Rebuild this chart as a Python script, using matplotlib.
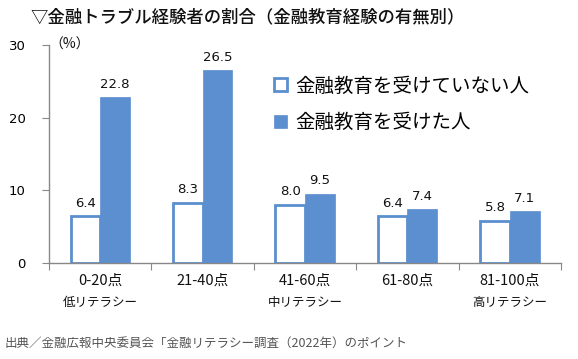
import matplotlib
matplotlib.use("Agg")
import matplotlib.pyplot as plt
import numpy as np

plt.rcParams['font.family'] = ['Noto Sans CJK JP', 'DejaVu Sans']

categories = ["0-20点", "21-40点", "41-60点", "61-80点", "81-100点"]
sublabels = ["低リテラシー", "", "中リテラシー", "", "高リテラシー"]
no_edu = [6.4, 8.3, 8.0, 6.4, 5.8]
edu = [22.8, 26.5, 9.5, 7.4, 7.1]
series_names = ["金融教育を受けていない人", "金融教育を受けた人"]
yticks = [0, 10, 20, 30]

blue = "#5B8FCF"
gray = "#888888"

fig = plt.figure(figsize=(5.78, 3.59), dpi=100)
ax = fig.add_axes([0.0848, 0.2674, 0.886, 0.6073])

x = np.arange(len(categories))
w = 0.29
b1 = ax.bar(x - w / 2, no_edu, w, color="white", edgecolor=blue, linewidth=2, label=series_names[0])
b2 = ax.bar(x + w / 2, edu, w, color=blue, edgecolor=blue, linewidth=0.5, label=series_names[1])

for xi, v in zip(x, no_edu):
    ax.text(xi - w / 2, v + 0.9, f"{v:.1f}", ha="center", va="bottom", fontsize=9.5, color="#111111",
            family=['DejaVu Sans'])
for xi, v in zip(x, edu):
    ax.text(xi + w / 2, v + 0.9, f"{v:.1f}", ha="center", va="bottom", fontsize=9.5, color="#111111",
            family=['DejaVu Sans'])

ax.set_xlim(-0.5, len(categories) - 0.5)
ax.set_ylim(0, 30)
ax.set_yticks(yticks)
ax.set_yticklabels([str(t) for t in yticks], fontsize=9.5, family=['DejaVu Sans'])
ax.set_xticks(np.arange(-0.5, len(categories), 1.0))
ax.set_xticklabels([])
ax.tick_params(axis='x', length=5, color=gray, direction='out')
ax.tick_params(axis='y', length=5, color=gray, direction='out', pad=12)

for xi, (c, s) in enumerate(zip(categories, sublabels)):
    ax.text(xi, -2.4, c, ha="center", va="center", fontsize=10.5, color="#111111")
    if s:
        ax.text(xi, -5.4, s, ha="center", va="center", fontsize=9, color="#111111")

for sp in ["top", "right"]:
    ax.spines[sp].set_visible(False)
for sp in ["left", "bottom"]:
    ax.spines[sp].set_color(gray)
    ax.spines[sp].set_linewidth(1.0)

ax.text(0.0, 1.0, "（%）", transform=ax.transAxes, ha="left", va="center", fontsize=10, color="#111111")

leg = ax.legend(loc="upper left", bbox_to_anchor=(0.44, 0.86), frameon=False, fontsize=14,
                handlelength=0.65, handleheight=0.65, handletextpad=0.45, labelspacing=0.8,
                borderaxespad=0, borderpad=0)

fig.text(0.052, 0.952, "▽金融トラブル経験者の割合（金融教育経験の有無別）", ha="left", va="center",
         fontsize=12.5, fontweight='medium', color="#111111", family=['Noto Sans CJK JP', 'DejaVu Sans'])
fig.text(0.008, 0.045, "出典／金融広報中央委員会「金融リテラシー調査（2022年）のポイント", ha="left", va="center",
         fontsize=9, color="#555555")

fig.savefig("out.png", dpi=100)
